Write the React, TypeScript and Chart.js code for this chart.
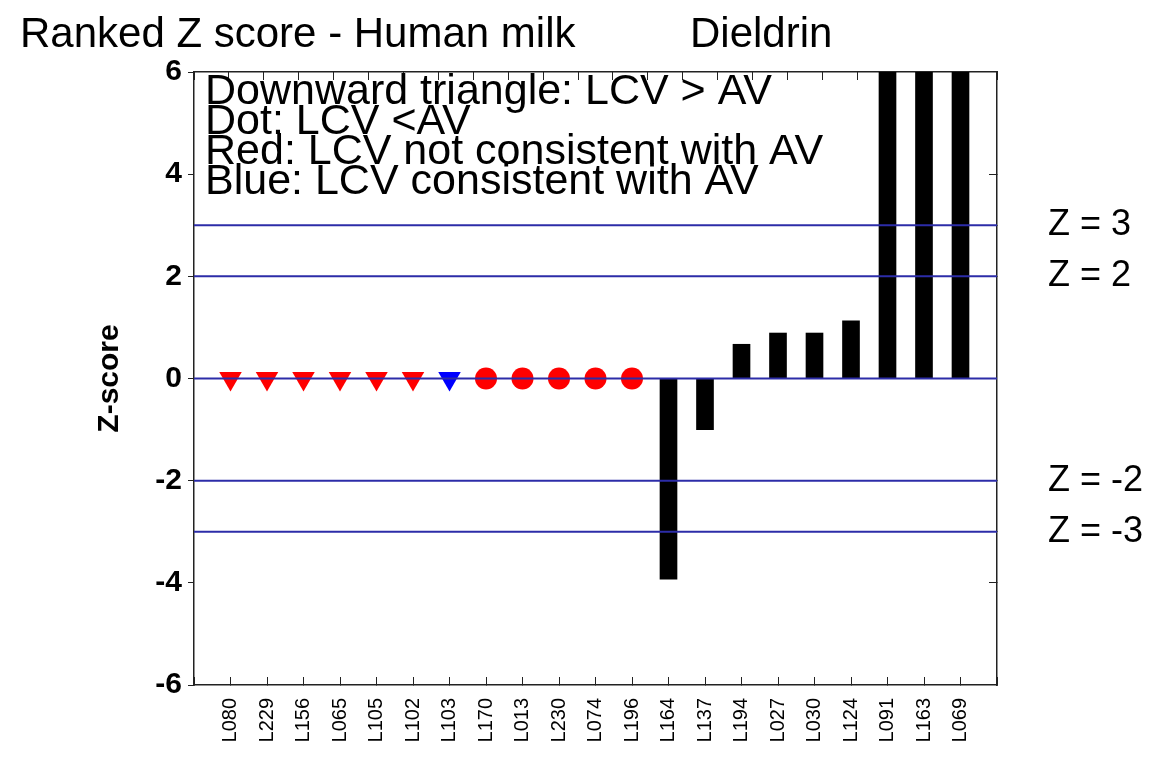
import React, { useEffect, useRef } from 'react';
import { Chart, registerables } from 'chart.js';

Chart.register(...registerables);

const FONT = '"Liberation Sans", Arial, Helvetica, sans-serif';

const TITLE_LEFT = 'Ranked Z score - Human milk';
const TITLE_RIGHT = 'Dieldrin';
const NOTE_LINES = [
  'Downward triangle: LCV > AV',
  'Dot: LCV <AV',
  'Red: LCV not consistent with AV',
  'Blue: LCV consistent with AV',
];

const LAB_CODES = [
  'L080', 'L229', 'L156', 'L065', 'L105', 'L102', 'L103', 'L170', 'L013', 'L230', 'L074',
  'L196', 'L164', 'L137', 'L194', 'L027', 'L030', 'L124', 'L091', 'L163', 'L069',
];

// Z-scores drawn as bars (null where the lab is drawn as a marker instead)
const BAR_Z: (number | null)[] = [
  null, null, null, null, null, null, null, null, null, null, null, null,
  -3.93, -1.0, 0.67, 0.89, 0.89, 1.13, 7.5, 7.5, 7.5,
];

// Markers (lab index, z)
const TRI_RED_IDX = [0, 1, 2, 3, 4, 5];
const TRI_RED_Z = [0, 0, 0, 0, 0, 0];
const TRI_BLUE_IDX = [6];
const TRI_BLUE_Z = [0];
const DOT_RED_IDX = [7, 8, 9, 10, 11];
const DOT_RED_Z = [0, 0, 0, 0, 0];

const LIMIT_Z = [3, 2, 0, -2, -3];
const RIGHT_TICKS = [4, 3, 2, -2, -3, -4];
const RIGHT_LABELS = ['', 'Z = 3', 'Z = 2', 'Z = -2', 'Z = -3', ''];

const Y_MIN = -6;
const Y_MAX = 6;
const X_MIN = -1;
const X_MAX = LAB_CODES.length;

const LINE_BLUE = '#2c2ca8';

const textPlugin = {
  id: 'texts',
  afterDraw(chart: any) {
    const ctx = chart.ctx;
    const { left, top } = chart.chartArea;
    ctx.save();
    ctx.fillStyle = '#000';
    ctx.textAlign = 'left';
    ctx.textBaseline = 'alphabetic';
    ctx.font = `42px ${FONT}`;
    ctx.fillText(TITLE_LEFT, 20, 47);
    ctx.fillText(TITLE_RIGHT, 690, 47);
    ctx.font = `43px ${FONT}`;
    NOTE_LINES.forEach((t, i) => ctx.fillText(t, left + 11, top + 32 + i * 30));
    ctx.restore();
  },
};

const noPad = (s: any) => {
  s.paddingTop = 0;
  s.paddingBottom = 0;
  s.paddingLeft = 0;
  s.paddingRight = 0;
};

export default function App() {
  const ref = useRef<HTMLCanvasElement | null>(null);

  useEffect(() => {
    if (!ref.current) return;
    Chart.defaults.font.family = FONT;
    Chart.defaults.color = '#000';

    const barData = BAR_Z.map((v, i) => (v === null ? null : { x: i, y: v })).filter(Boolean);
    const limitSets = LIMIT_Z.map((z) => ({
      type: 'line' as const,
      data: [
        { x: X_MIN, y: z },
        { x: X_MAX, y: z },
      ],
      borderColor: LINE_BLUE,
      borderWidth: 2,
      pointRadius: 0,
      order: 0,
    }));

    const chart = new Chart(ref.current, {
      type: 'bar',
      data: {
        datasets: [
          ...limitSets,
          {
            type: 'scatter' as const,
            data: TRI_RED_IDX.map((x, i) => ({ x, y: TRI_RED_Z[i] })),
            pointStyle: 'triangle',
            rotation: 180,
            pointRadius: 13,
            backgroundColor: '#ff0000',
            borderColor: '#ff0000',
            borderWidth: 0,
            order: 1,
          },
          {
            type: 'scatter' as const,
            data: TRI_BLUE_IDX.map((x, i) => ({ x, y: TRI_BLUE_Z[i] })),
            pointStyle: 'triangle',
            rotation: 180,
            pointRadius: 13,
            backgroundColor: '#0000ff',
            borderColor: '#0000ff',
            borderWidth: 0,
            order: 1,
          },
          {
            type: 'scatter' as const,
            data: DOT_RED_IDX.map((x, i) => ({ x, y: DOT_RED_Z[i] })),
            pointStyle: 'circle',
            pointRadius: 11,
            backgroundColor: '#ff0000',
            borderColor: '#ff0000',
            borderWidth: 0,
            order: 1,
          },
          {
            type: 'bar' as const,
            data: barData as any,
            backgroundColor: '#000',
            barThickness: 17,
            order: 2,
          },
        ],
      },
      options: {
        animation: false,
        responsive: true,
        maintainAspectRatio: false,
        layout: { padding: 0 },
        plugins: {
          legend: { display: false },
          tooltip: { enabled: false },
          title: { display: false },
        },
        scales: {
          x: {
            type: 'linear',
            position: 'bottom',
            min: X_MIN,
            max: X_MAX,
            offset: false,
            grid: { drawOnChartArea: false, drawTicks: true, tickLength: -8, color: '#222', offset: false },
            border: { display: true, color: '#222', width: 1.5 },
            ticks: {
              stepSize: 1,
              autoSkip: false,
              maxRotation: 90,
              minRotation: 90,
              padding: 21,
              font: { size: 20 },
              color: '#000',
              callback: (v: any) => LAB_CODES[v] ?? '',
            },
            afterFit: (s: any) => {
              s.height = 73;
              noPad(s);
            },
          },
          x2: {
            type: 'linear',
            position: 'top',
            min: X_MIN,
            max: X_MAX,
            grid: { drawOnChartArea: false, drawTicks: true, tickLength: -8, color: '#222' },
            border: { display: true, color: '#222', width: 1.5 },
            ticks: { display: false, stepSize: 1 },
            afterFit: (s: any) => {
              s.height = 72;
              noPad(s);
            },
          },
          y: {
            type: 'linear',
            position: 'left',
            min: Y_MIN,
            max: Y_MAX,
            grid: { drawOnChartArea: false, drawTicks: true, tickLength: 6, color: '#222' },
            border: { display: true, color: '#222', width: 1.5 },
            ticks: {
              stepSize: 2,
              padding: 6,
              font: { size: 30, weight: 'bold' },
              color: '#000',
            },
            title: {
              display: true,
              text: 'Z-score',
              font: { size: 30, weight: 'bold' },
              color: '#000',
              padding: { top: 92, bottom: 0 },
            },
            afterFit: (s: any) => {
              s.width = 194;
              noPad(s);
            },
          },
          y2: {
            type: 'linear',
            position: 'right',
            min: Y_MIN,
            max: Y_MAX,
            grid: { drawOnChartArea: false, drawTicks: true, tickLength: -8, color: '#222' },
            border: { display: true, color: '#222', width: 1.5 },
            afterBuildTicks: (s: any) => {
              s.ticks = RIGHT_TICKS.map((v) => ({ value: v }));
            },
            ticks: {
              padding: 59,
              font: { size: 36 },
              color: '#000',
              callback: (v: any) => {
                const i = RIGHT_TICKS.indexOf(Number(v));
                return i >= 0 ? RIGHT_LABELS[i] : '';
              },
            },
            afterFit: (s: any) => {
              s.width = 156;
              noPad(s);
            },
          },
        },
      },
      plugins: [textPlugin],
    });

    return () => chart.destroy();
  }, []);

  return (
    <div style={{ position: 'fixed', left: 0, top: 0, width: 1153, height: 758, background: '#fff' }}>
      <canvas ref={ref} />
    </div>
  );
}
